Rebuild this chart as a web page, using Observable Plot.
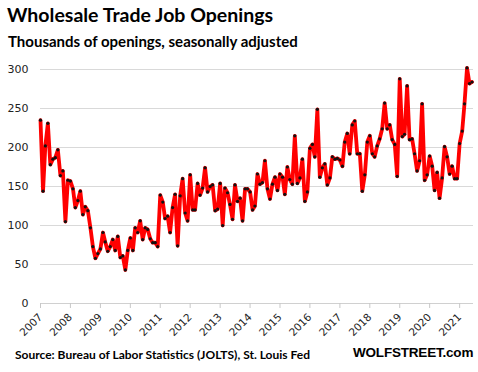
<!DOCTYPE html>
<html>
<head>
<meta charset="utf-8">
<script src="https://cdn.jsdelivr.net/npm/d3@7"></script>
<script src="https://cdn.jsdelivr.net/npm/@observablehq/plot@0.6"></script>
<style>
  html, body { margin: 0; padding: 0; background: #fff; }
  #wrap { position: relative; width: 478px; height: 372px; overflow: hidden; font-family: Lato, "Open Sans", sans-serif; }
  #title { position: absolute; left: 7px; top: 3px; font-size: 19.5px; font-weight: 700; color: #000; white-space: nowrap; }
  #subtitle { position: absolute; left: 8px; top: 32px; font-size: 15px; font-weight: 700; color: #000; white-space: nowrap; }
  #chart { position: absolute; left: 0; top: 55px; }
  #source { position: absolute; left: 15px; top: 347px; font-size: 12px; font-weight: 700; color: #000; white-space: nowrap; }
  #brand { position: absolute; left: 353px; top: 345px; font-family: "Liberation Sans", Arial, sans-serif; font-size: 13.5px; font-weight: 900; color: #000; white-space: nowrap; letter-spacing: -0.2px; }
</style>
</head>
<body>
<div id="wrap">
  <div id="title">Wholesale Trade Job Openings</div>
  <div id="subtitle">Thousands of openings, seasonally adjusted</div>
  <div id="chart"></div>
  <div id="source">Source: Bureau of Labor Statistics (JOLTS), St. Louis Fed</div>
  <div id="brand">WOLFSTREET.com</div>
</div>
<script>
// Monthly job openings (thousands), Jan 2007 .. Jun 2021
const startYear = 2007;
const values = [
  235,144,202,231,178,185,187,197,164,170,105,158,
  157,147,123,132,144,114,124,119,97,73,58,64,
  70,91,79,67,73,82,68,86,59,61,43,68,
  84,68,97,91,106,82,97,95,83,78,78,73,
  139,130,109,112,91,123,140,74,138,160,116,106,
  165,120,120,154,139,148,174,143,150,152,119,121,
  154,100,148,142,127,108,152,131,135,106,147,147,
  143,120,125,166,153,155,183,147,134,153,162,145,
  166,162,140,175,159,153,215,154,161,185,131,143,
  199,204,188,249,162,174,179,152,161,188,185,186,
  184,176,207,218,192,229,234,192,192,144,165,207,
  215,192,188,202,211,224,257,224,229,210,204,163,
  288,214,217,279,210,211,192,170,183,256,158,165,
  189,176,145,168,135,161,201,188,166,176,160,160,
  205,221,256,302,282,284
];
const yTicks = [0, 50, 100, 150, 200, 250, 300];
const yearTicks = [2007,2008,2009,2010,2011,2012,2013,2014,2015,2016,2017,2018,2019,2020,2021];

const data = values.map((v, i) => ({
  date: new Date(Date.UTC(startYear, i, 1)),
  value: v
}));
const tickDates = yearTicks.map(y => new Date(Date.UTC(y, 0, 1)));

const chart = Plot.plot({
  width: 478,
  height: 284,
  marginLeft: 40,
  marginRight: 5,
  marginTop: 14,
  marginBottom: 36,
  style: { fontFamily: "'DejaVu Sans', sans-serif", fontSize: "11px", color: "#333", background: "#fff" },
  x: { type: "utc", domain: [new Date(Date.UTC(2007, 0, 1)), new Date(Date.UTC(2021, 5, 19))] },
  y: { domain: [0, 300] },
  marks: [
    Plot.gridY(yTicks.filter(d => d > 0), { stroke: "#d9d9d9", strokeOpacity: 1, strokeWidth: 1 }),
    Plot.ruleY([0], { stroke: "#d0d0d0", strokeWidth: 1 }),
    Plot.axisY(yTicks, { tickSize: 0, tickPadding: 12, fill: "#222", label: null }),
    Plot.axisX(tickDates, {
      tickSize: 5, stroke: "#c8c8c8", tickPadding: 7, tickRotate: -45,
      tickFormat: d => String(d.getUTCFullYear()), fill: "#222", fontSize: 10.5, label: null
    }),
    Plot.line(data, { x: "date", y: "value", stroke: "#ff0000", strokeWidth: 3.8, strokeLinejoin: "round" }),
    Plot.dot(data, { x: "date", y: "value", r: 1.6, fill: "#111", stroke: "none" })
  ]
});
document.getElementById("chart").appendChild(chart);
</script>
</body>
</html>
